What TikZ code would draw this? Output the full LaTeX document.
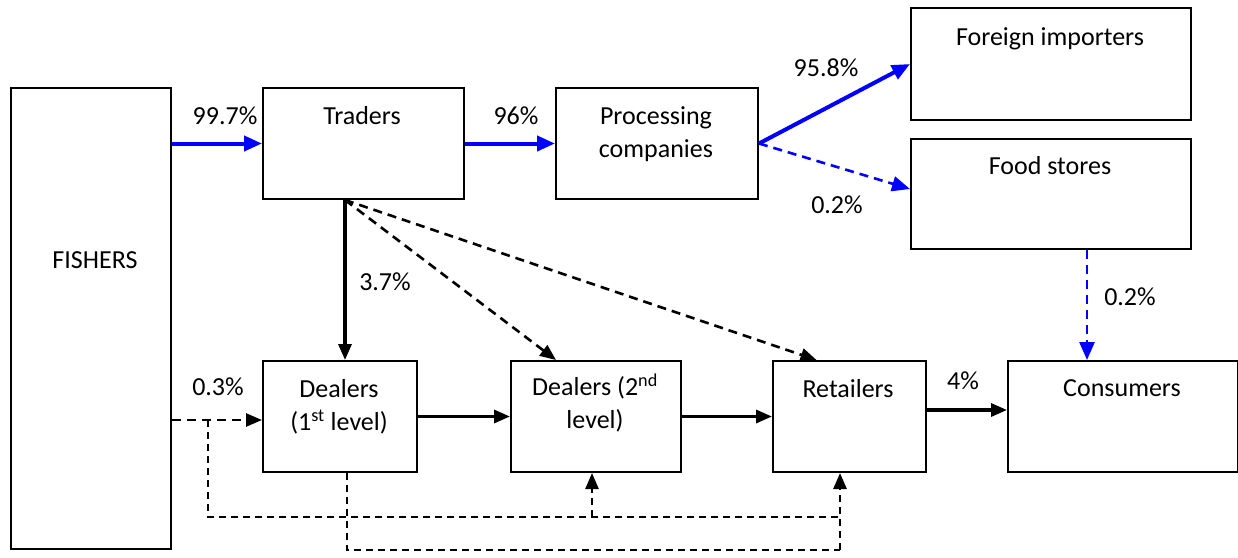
\documentclass[tikz,border=0pt]{standalone}
\usepackage{fontspec}
\setmainfont{Carlito}
\usetikzlibrary{arrows.meta}
\begin{document}
\begin{tikzpicture}[x=1pt,y=-1pt,
  box/.style={draw, line width=2pt, inner sep=0pt, anchor=north west},
  txt/.style={inner sep=0pt, anchor=north, align=center, font=\fontsize{26}{33}\selectfont},
  bluetip/.style={-{Triangle[length=18pt,width=15pt]}},
  blacktip/.style={-{Triangle[length=16pt,width=13pt]}},
  blueflow/.style={draw=blue, line width=4pt, bluetip},
  bluedash/.style={draw=blue, line width=2.6pt, dash pattern=on 9pt off 6pt, bluetip},
  flow/.style={draw=black, line width=3.2pt, blacktip},
  dashflow/.style={draw=black, line width=2.6pt, dash pattern=on 9pt off 6pt, blacktip},
  loopline/.style={draw=black, line width=2pt, dash pattern=on 7pt off 5pt},
]
\useasboundingbox (0,0) rectangle (1238,557);

% boxes
\node[box, minimum width=160pt, minimum height=461pt] (fish) at (10,87) {};
\node[box, minimum width=201pt, minimum height=111pt] (tr) at (262,87) {};
\node[box, minimum width=202pt, minimum height=111pt] (pc) at (555,87) {};
\node[box, minimum width=280pt, minimum height=112pt] (fi) at (910,7) {};
\node[box, minimum width=280pt, minimum height=110pt] (fs) at (910,138) {};
\node[box, minimum width=154pt, minimum height=111pt] (d1) at (262,360) {};
\node[box, minimum width=170pt, minimum height=111pt] (d2) at (510,360) {};
\node[box, minimum width=153pt, minimum height=111pt] (rt) at (772,360) {};
\node[box, minimum width=230pt, minimum height=111pt] (cs) at (1007,360) {};

% box texts
\node[txt] (tfish) at (95,251) {FISHERS};
\node[txt] (ttr) at (362,106) {Traders};
\node[txt] (tpc) at (656,106) {Processing\\companies};
\node[txt] (tfi) at (1050,27) {Foreign importers};
\node[txt] (tfs) at (1050,156) {Food stores};
\node[txt] (td1) at (339,379) {Dealers\\(1\textsuperscript{st} level)};
\node[txt] (td2) at (595,374) {Dealers (2\textsuperscript{nd}\\level)};
\node[txt] (trt) at (848,379) {Retailers};
\node[txt] (tcs) at (1122,379) {Consumers};

% percentage labels
\node[txt] (l1) at (225,107) {99.7\%};
\node[txt] (l2) at (516,107) {96\%};
\node[txt] (l3) at (826,59) {95.8\%};
\node[txt] (l4) at (837,196) {0.2\%};
\node[txt] (l5) at (1130,288) {0.2\%};
\node[txt] (l6) at (385,273) {3.7\%};
\node[txt] (l7) at (218,378) {0.3\%};
\node[txt] (l8) at (963,372) {4\%};

% helper points
\coordinate (xa) at (1087,0);
\coordinate (xt) at (345,0);
\coordinate (yf) at (0,420);
\coordinate (xl) at (208,0);
\coordinate (xd1) at (347,0);
\coordinate (xd2) at (592,0);
\coordinate (xr) at (840,0);
\coordinate (ylow1) at (0,517);
\coordinate (ylow2) at (0,550);
\coordinate (yr) at (0,410);

% main export chain
\draw[blueflow] (fish.east |- tr.west) -- (tr.west);
\draw[blueflow] (tr.east) -- (pc.west);
\draw[blueflow] (pc.east) -- (fi.west);
\draw[bluedash] (pc.east) -- ([yshift=5pt]fs.west);
\draw[bluedash] (fs.south -| xa) -- (cs.north -| xa);

% domestic chain
\draw[flow] (tr.south -| xt) -- (d1.north -| xt);
\draw[dashflow] (tr.south -| xt) -- ([xshift=-40pt]d2.north);
\draw[dashflow] (tr.south -| xt) -- ([xshift=-33pt]rt.north);
\draw[dashflow] (fish.east |- yf) -- (d1.west |- yf);
\draw[flow] (d1.east) -- (d2.west);
\draw[flow] (d2.east) -- (rt.west);
\draw[flow] (rt.east |- yr) -- (cs.west |- yr);

% bypass routes under the dealers
\draw[loopline] (xl |- yf) -- (xl |- ylow1) -- (xr |- ylow1);
\draw[loopline, line width=2.4pt, blacktip] (xd2 |- ylow1) -- (d2.south -| xd2);
\draw[loopline] (d1.south -| xd1) -- (xd1 |- ylow2) -- (xr |- ylow2);
\draw[loopline, line width=2.8pt, blacktip] (xr |- ylow2) -- (rt.south -| xr);
\end{tikzpicture}
\end{document}
